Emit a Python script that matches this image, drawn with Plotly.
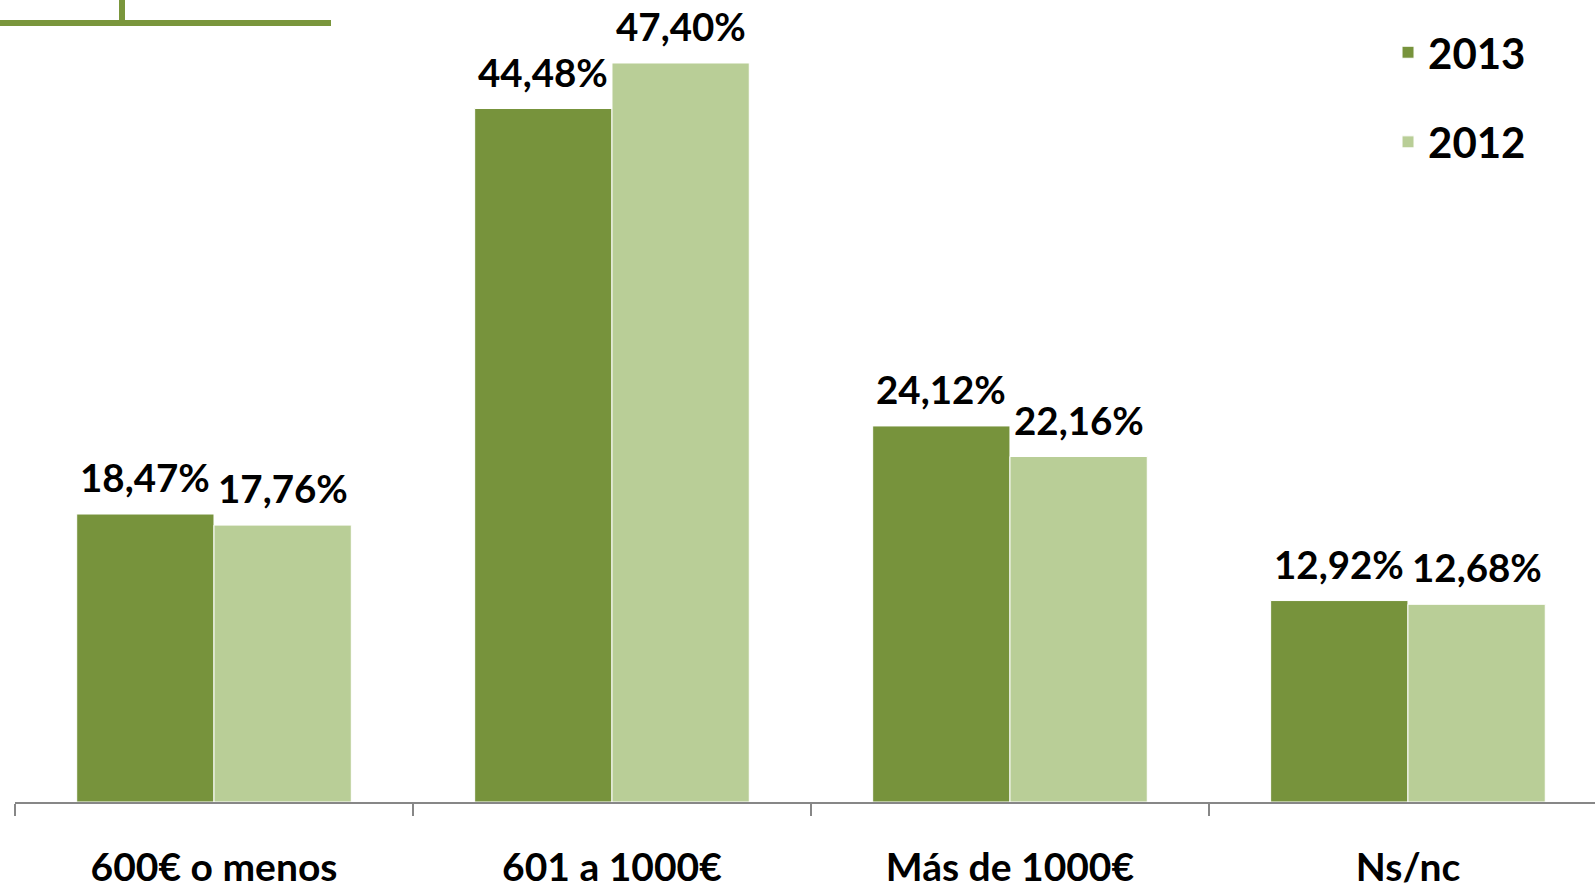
import plotly.graph_objects as go

# Income brackets and the share of each one, per year
categories = ["600€ o menos", "601 a 1000€", "Más de 1000€", "Ns/nc"]
values_2013 = [18.47, 44.48, 24.12, 12.92]
values_2012 = [17.76, 47.40, 22.16, 12.68]
series_names = ["2013", "2012"]

DARK = "#77933C"
LIGHT = "#B9CE97"
AXIS = "#878787"
FONT = "Lato, 'Open Sans', sans-serif"

# plot area: 15px..1595px wide, 0..802px tall
PW, PH = 1580, 802
BARGAP = 0.31
BAR_HALF = (1 - BARGAP) / 2 * (PW / 3.97) / 2  # half a bar, in pixels


def pct(v):
    return f"{v:.2f}%".replace(".", ",")


fig = go.Figure()
for name, vals, color in zip(series_names, [values_2013, values_2012], [DARK, LIGHT]):
    fig.add_trace(
        go.Bar(
            x=categories,
            y=vals,
            name=name,
            legendgroup=name,
            marker=dict(color=color, line=dict(color="white", width=1)),
            hoverinfo="x+y",
        )
    )

# value labels sit a little higher above the bars than plotly's "outside" text
for i, vals in enumerate([values_2013, values_2012]):
    shift = -BAR_HALF if i == 0 else BAR_HALF
    for cat, v in zip(categories, vals):
        fig.add_annotation(
            x=cat, y=v, text=pct(v), showarrow=False,
            xshift=shift, yshift=12, yanchor="bottom",
            font=dict(size=38.5, color="black", family=FONT, weight="bold"),
        )

fig.update_layout(
    width=1595,
    height=888,
    paper_bgcolor="white",
    plot_bgcolor="white",
    font=dict(family=FONT, color="black"),
    margin=dict(l=15, r=0, t=0, b=86, autoexpand=False),
    barmode="group",
    bargap=BARGAP,
    bargroupgap=0.0,
    showlegend=True,
    legend=dict(
        x=0.869,
        xanchor="left",
        y=0.977,
        yanchor="top",
        font=dict(size=42, family=FONT, weight="bold"),
        tracegroupgap=32,
        bgcolor="rgba(0,0,0,0)",
    ),
    # fragment of a neighbouring graphic cut off at the top-left corner
    shapes=[
        dict(type="line", xref="paper", yref="paper", x0=-15 / PW, x1=316 / PW,
             y0=(PH - 23) / PH, y1=(PH - 23) / PH, line=dict(color="#7A963C", width=6)),
        dict(type="line", xref="paper", yref="paper", x0=107 / PW, x1=107 / PW,
             y0=(PH - 23) / PH, y1=1.0, line=dict(color="#7A963C", width=6)),
    ],
)

fig.update_xaxes(
    range=[-0.5, 3.47],
    automargin=False,
    showline=True,
    linecolor=AXIS,
    linewidth=1.5,
    ticks="outside",
    tickson="boundaries",
    ticklen=12,
    tickcolor=AXIS,
    tickwidth=1.5,
    ticklabelstandoff=30,
    tickfont=dict(size=39, family=FONT, weight="bold", color="black"),
    showgrid=False,
)
fig.update_yaxes(range=[0, 51.44], visible=False, automargin=False)

# the page's default 8px body margin would shift the whole chart
fig.write_html(
    "out.html",
    config={"displayModeBar": False},
    post_script="document.body.style.margin='0';",
)
